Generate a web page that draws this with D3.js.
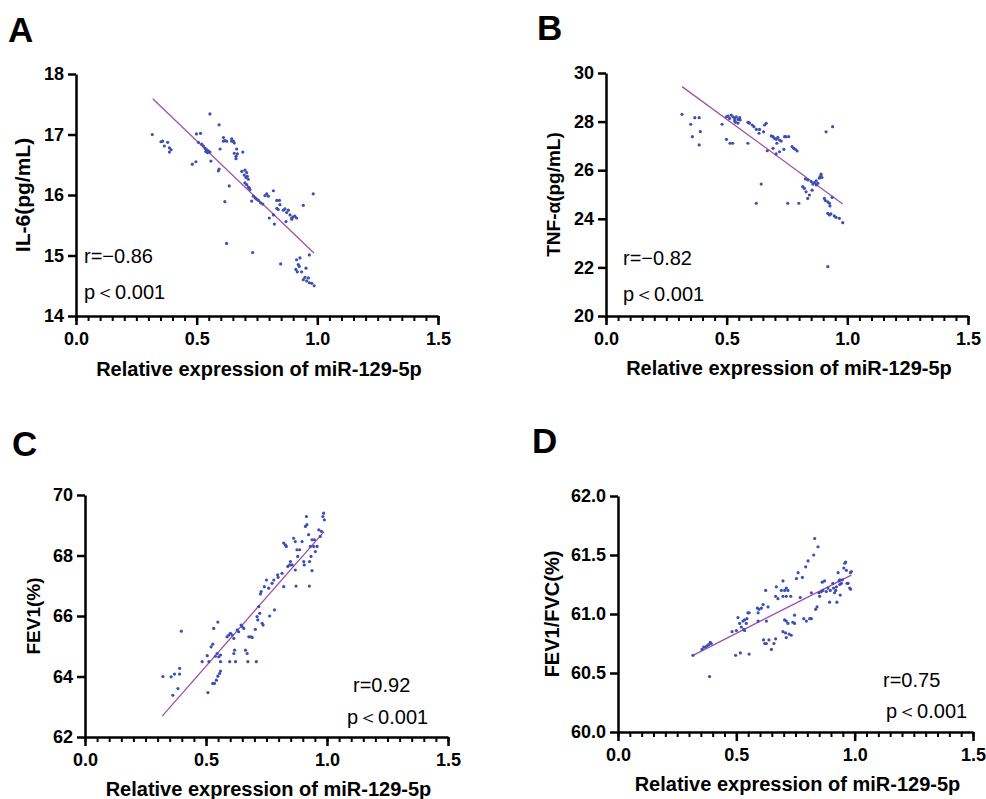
<!DOCTYPE html>
<html>
<head>
<meta charset="utf-8">
<script src="https://cdn.jsdelivr.net/npm/d3@7"></script>
<style>
  body { margin: 0; background: #fff; }
  svg text { font-family: "Liberation Sans", Arial, sans-serif; }
</style>
</head>
<body>
<div id="chart"></div>
<script>
// shared x axis
const xTitle = "Relative expression of miR-129-5p";
const xMajor = [0, 0.5, 1.0, 1.5];

// A: IL-6
const ptsA = [
  [0.316,17.00],[0.352,16.88],[0.359,16.89],[0.366,16.81],[0.380,16.87],[0.387,16.78],[0.394,16.75],[0.387,16.71],
  [0.555,17.34],[0.593,17.16],[0.499,17.01],[0.516,17.02],
  [0.507,16.87],[0.521,16.84],[0.528,16.81],[0.535,16.77],[0.541,16.75],[0.548,16.73],[0.555,16.71],[0.538,16.72],[0.545,16.70],
  [0.482,16.51],[0.497,16.55],[0.559,16.56],[0.593,16.43],[0.590,16.40],[0.597,16.76],
  [0.611,16.95],[0.617,16.90],[0.624,16.89],[0.611,16.89],[0.645,16.93],[0.652,16.89],[0.656,16.86],[0.645,16.89],
  [0.656,16.69],[0.666,16.76],[0.663,16.64],[0.663,16.60],[0.669,16.68],[0.691,16.71],
  [0.687,16.39],[0.700,16.41],[0.707,16.37],[0.697,16.33],[0.704,16.29],[0.710,16.31],[0.714,16.26],[0.700,16.20],[0.707,16.17],[0.714,16.13],[0.718,16.12],[0.721,16.09],
  [0.635,16.15],[0.617,15.89],
  [0.735,15.98],[0.742,15.95],[0.749,15.93],[0.728,15.90],[0.756,15.91],[0.765,15.87],[0.774,15.85],[0.783,15.99],[0.790,16.02],[0.797,15.98],
  [0.818,16.07],[0.832,15.91],[0.843,15.91],[0.832,15.78],[0.838,15.76],[0.845,15.84],[0.859,15.75],[0.866,15.77],[0.873,15.71],[0.880,15.75],
  [0.887,15.67],[0.894,15.62],[0.900,15.64],[0.907,15.65],[0.914,15.62],[0.942,15.83],[0.983,16.02],[0.801,15.62],[0.818,15.67],[0.822,15.52],[0.870,15.56],[0.894,15.60],
  [0.624,15.20],[0.732,15.05],[0.848,14.86],
  [0.914,14.93],[0.928,14.96],[0.921,14.85],[0.925,14.82],[0.911,14.77],[0.917,14.73],[0.935,14.73],[0.953,14.79],[0.967,15.01],
  [0.942,14.60],[0.956,14.58],[0.963,14.63],[0.967,14.55],[0.977,14.54],[0.987,14.50],[0.949,14.64]
];
const fitA = [[0.318,17.59],[0.986,15.04]];
const ticksA = [14, 15, 16, 17, 18];

// B: TNF-alpha
const ptsB = [
  [0.315,28.30],[0.351,27.89],[0.368,28.16],[0.386,28.16],[0.391,27.59],[0.358,27.38],[0.386,27.04],
  [0.481,27.89],[0.499,28.20],[0.506,28.23],[0.512,28.13],[0.519,28.27],[0.526,28.20],[0.533,28.13],[0.540,28.20],[0.547,28.09],[0.554,28.16],
  [0.537,27.97],[0.547,27.94],[0.556,28.07],[0.533,28.04],
  [0.499,27.27],[0.514,27.11],[0.525,27.11],[0.588,27.11],
  [0.588,27.97],[0.595,27.94],[0.606,27.86],[0.613,27.79],[0.623,27.68],[0.634,27.52],[0.636,27.68],[0.653,27.58],[0.657,27.86],[0.664,27.93],[0.592,27.95],
  [0.685,27.41],[0.692,27.38],[0.698,27.31],[0.705,27.27],[0.712,27.35],[0.719,27.24],[0.726,27.20],[0.740,27.38],[0.746,27.38],[0.757,27.38],
  [0.708,27.11],[0.692,26.90],[0.719,26.76],[0.737,26.86],[0.668,26.80],[0.771,26.97],[0.778,26.90],[0.785,26.86],[0.792,26.79],[0.705,26.67],
  [0.643,25.43],[0.623,24.64],[0.753,24.64],[0.799,24.64],
  [0.826,25.64],[0.836,25.60],[0.850,25.53],[0.857,25.43],[0.864,25.49],[0.871,25.56],[0.884,25.67],[0.891,25.80],[0.887,25.73],[0.895,25.70],
  [0.815,25.32],[0.822,25.25],[0.829,25.11],[0.836,24.84],[0.843,24.98],[0.854,25.18],[0.871,25.39],[0.878,25.46],[0.891,25.84],
  [0.905,24.84],[0.909,24.75],[0.919,24.70],[0.928,24.53],[0.937,24.88],[0.926,24.64],[0.912,27.58],[0.939,27.79],
  [0.919,24.22],[0.926,24.16],[0.932,24.20],[0.946,24.12],[0.953,24.06],[0.967,24.02],[0.981,23.84],[0.919,22.03]
];
const fitB = [[0.315,29.44],[0.981,24.61]];
const ticksB = [20, 22, 24, 26, 28, 30];

// C: FEV1
const ptsC = [
  [0.322,64.00],[0.356,63.99],[0.370,64.08],[0.391,64.27],[0.391,64.08],[0.363,63.38],[0.384,63.60],[0.398,65.50],
  [0.484,64.49],
  [0.505,64.69],[0.512,64.49],[0.521,64.98],[0.528,65.07],[0.532,65.59],[0.539,64.67],[0.546,64.76],[0.549,65.80],[0.553,64.65],[0.560,64.49],[0.560,64.71],
  [0.508,63.47],[0.528,63.77],[0.535,63.77],[0.543,63.88],[0.549,64.01],[0.556,64.10],[0.560,64.18],
  [0.587,65.31],[0.594,65.37],[0.601,65.43],[0.608,65.37],[0.615,65.26],[0.598,64.49],[0.622,64.49],[0.615,64.76],[0.618,64.87],[0.629,65.54],
  [0.635,65.48],[0.645,65.70],[0.649,65.65],[0.656,65.59],[0.663,64.87],[0.670,64.76],[0.673,64.49],[0.677,65.31],[0.686,65.31],[0.691,65.29],
  [0.704,65.56],[0.708,64.49],[0.711,65.98],[0.714,65.87],[0.722,66.09],[0.718,66.31],[0.725,66.73],[0.728,66.81],
  [0.732,65.76],[0.736,65.70],[0.741,66.97],[0.750,67.19],[0.759,66.92],[0.773,67.08],[0.780,67.19],[0.796,67.36],[0.798,67.28],[0.821,66.97],
  [0.763,66.00],[0.783,66.20],[0.814,67.41],[0.821,68.41],[0.828,68.35],[0.832,68.30],[0.838,67.64],[0.846,67.69],[0.849,67.80],[0.856,67.69],
  [0.862,68.57],[0.869,68.46],[0.876,68.19],[0.869,67.52],[0.872,66.99],[0.879,67.97],[0.887,68.19],[0.897,68.46],[0.904,67.80],[0.906,67.69],
  [0.915,69.29],[0.911,68.96],[0.917,69.02],[0.924,68.69],[0.928,67.80],[0.927,66.99],[0.931,68.30],[0.938,68.52],[0.934,67.97],[0.938,67.50],
  [0.945,68.30],[0.948,68.52],[0.952,68.13],[0.959,68.30],[0.966,68.85],[0.972,68.63],[0.977,68.80],[0.983,69.29],[0.986,69.40],[0.989,69.18]
];
const fitC = [[0.319,62.69],[0.988,68.79]];
const ticksC = [62, 64, 66, 68, 70];

// D: FEV1/FVC
const ptsD = [
  [0.317,60.65],[0.355,60.70],[0.362,60.72],[0.369,60.72],[0.376,60.73],[0.383,60.74],[0.390,60.76],[0.394,60.75],[0.387,60.47],
  [0.482,60.85],[0.500,60.86],[0.507,60.97],[0.514,60.92],[0.521,60.89],[0.528,60.94],[0.531,60.87],[0.535,60.95],[0.542,60.92],[0.545,60.96],
  [0.549,61.01],[0.554,61.01],[0.535,60.86],[0.497,60.65],[0.517,60.67],[0.554,60.66],
  [0.589,61.05],[0.596,61.04],[0.606,61.05],[0.613,61.08],[0.592,61.01],[0.592,60.94],[0.624,61.20],[0.634,61.06],[0.627,60.94],
  [0.615,60.78],[0.620,60.75],[0.627,60.75],[0.638,60.78],[0.648,60.70],[0.659,60.75],[0.666,60.79],[0.666,61.15],[0.669,61.23],[0.676,61.13],
  [0.690,61.20],[0.697,61.28],[0.704,61.20],[0.711,61.22],[0.718,61.20],[0.730,61.15],[0.711,61.15],[0.697,61.15],
  [0.704,60.95],[0.711,60.94],[0.718,60.92],[0.697,60.85],[0.708,60.84],[0.723,60.83],[0.711,60.80],[0.732,60.82],[0.746,60.99],[0.739,60.93],[0.746,60.92],
  [0.754,61.30],[0.761,61.35],[0.770,61.14],[0.779,61.31],[0.785,60.96],[0.796,60.94],[0.793,61.40],[0.803,61.45],[0.810,60.96],[0.817,60.96],
  [0.817,61.18],[0.827,61.50],[0.831,61.64],[0.835,61.04],[0.841,61.06],[0.845,61.57],[0.849,61.18],[0.852,61.15],[0.859,61.19],[0.863,61.27],
  [0.873,61.28],[0.866,61.20],[0.880,61.19],[0.887,61.22],[0.894,61.10],[0.897,61.20],[0.908,61.26],[0.911,61.22],[0.915,61.18],[0.920,61.20],
  [0.923,61.23],[0.925,61.10],[0.930,61.35],[0.934,61.28],[0.937,61.25],[0.939,61.16],[0.944,61.26],[0.948,61.29],[0.954,61.39],[0.958,61.43],
  [0.962,61.44],[0.965,61.37],[0.968,61.26],[0.972,61.26],[0.979,61.22],[0.982,61.35],[0.986,61.36],[0.983,61.21],[0.937,61.29]
];
const fitD = [[0.317,60.65],[0.986,61.33]];
const ticksD = [60.0, 60.5, 61.0, 61.5, 62.0];

const width = 986;
const height = 799;
const dotColor = "#3e4fb3";
const lineColor = "#a24fa6";

const panels = [
  { letter: "A", lx: 8, ly: 42, pts: ptsA, fit: fitA, yTicks: ticksA, yFmt: d3.format("d"),
    yTitle: "IL-6(pg/mL)", ytSize: 21, r: "r=\u22120.86", left: 76, right: 438, top: 74, bottom: 316,
    titleX: 22, statX: 84, rY: 263, pY: 299, xTitleY: 376 },
  { letter: "B", lx: 537, ly: 40, pts: ptsB, fit: fitB, yTicks: ticksB, yFmt: d3.format("d"),
    yTitle: "TNF-\u03b1(pg/mL)", ytSize: 19, r: "r=\u22120.82", left: 606, right: 968, top: 73, bottom: 316,
    titleX: 553, statX: 623, rY: 265, pY: 301, xTitleY: 375 },
  { letter: "C", lx: 12, ly: 456, pts: ptsC, fit: fitC, yTicks: ticksC, yFmt: d3.format("d"),
    yTitle: "FEV1(%)", ytSize: 19, r: "r=0.92", left: 85, right: 448, top: 495, bottom: 737,
    titleX: 33, statX: 353, pStatX: 347, rY: 692, pY: 724, xTitleY: 796 },
  { letter: "D", lx: 532, ly: 453, pts: ptsD, fit: fitD, yTicks: ticksD, yFmt: d3.format(".1f"),
    yTitle: "FEV1/FVC(%)", ytSize: 20, r: "r=0.75", left: 618, right: 973, top: 496, bottom: 732,
    titleX: 552, statX: 883, pStatX: 886, rY: 687, pY: 718, xTitleY: 791 }
];

const svg = d3.select("#chart")
  .append("svg")
  .attr("width", width)
  .attr("height", height);

panels.forEach(p => {
  const x = d3.scaleLinear().domain([0, 1.5]).range([p.left, p.right]);
  const y = d3.scaleLinear().domain(d3.extent(p.yTicks)).range([p.bottom, p.top]);
  const g = svg.append("g");

  // minor ticks on x
  g.append("g")
    .attr("transform", `translate(0,${p.bottom})`)
    .call(d3.axisBottom(x).tickValues(d3.range(0, 31).map(i => i * 0.05)).tickSize(5).tickSizeOuter(0).tickFormat(""))
    .call(a => a.select(".domain").remove())
    .call(a => a.selectAll("line").attr("stroke-width", 2));

  const xAxis = g.append("g")
    .attr("transform", `translate(0,${p.bottom})`)
    .call(d3.axisBottom(x).tickValues(xMajor).tickSize(9).tickSizeOuter(0).tickPadding(7).tickFormat(d3.format(".1f")));

  const yAxis = g.append("g")
    .attr("transform", `translate(${p.left},0)`)
    .call(d3.axisLeft(y).tickValues(p.yTicks).tickSize(8).tickSizeOuter(0).tickPadding(4).tickFormat(p.yFmt));

  [xAxis, yAxis].forEach(a => {
    a.select(".domain").attr("stroke-width", 2.5);
    a.selectAll("line").attr("stroke-width", 2.5);
    a.selectAll("text").attr("font-size", 18).attr("font-weight", "bold").attr("fill", "#000")
      .style("font-family", "'Liberation Sans', Arial, sans-serif");
  });

  // regression line
  g.append("line")
    .attr("x1", x(p.fit[0][0])).attr("y1", y(p.fit[0][1]))
    .attr("x2", x(p.fit[1][0])).attr("y2", y(p.fit[1][1]))
    .attr("stroke", lineColor).attr("stroke-width", 1.3);

  g.selectAll("circle")
    .data(p.pts)
    .join("circle")
    .attr("cx", d => x(d[0]))
    .attr("cy", d => y(d[1]))
    .attr("r", 1.6)
    .attr("fill", dotColor);

  // labels
  g.append("text").attr("x", p.lx).attr("y", p.ly)
    .attr("font-size", 35).attr("font-weight", "bold").text(p.letter);

  g.append("text")
    .attr("transform", `translate(${p.titleX},${(p.top + p.bottom) / 2}) rotate(-90)`)
    .attr("text-anchor", "middle").attr("dominant-baseline", "central")
    .attr("font-size", p.ytSize).attr("font-weight", "bold").text(p.yTitle);

  g.append("text")
    .attr("x", (p.left + p.right) / 2 + 2).attr("y", p.xTitleY)
    .attr("text-anchor", "middle")
    .attr("font-size", 20).attr("font-weight", "bold").text(xTitle);

  g.append("text").attr("x", p.statX).attr("y", p.rY)
    .attr("font-size", 20).text(p.r);
  g.append("text").attr("x", p.pStatX || p.statX).attr("y", p.pY)
    .attr("font-size", 20).text("p\uff1c0.001");
});
</script>
</body>
</html>
